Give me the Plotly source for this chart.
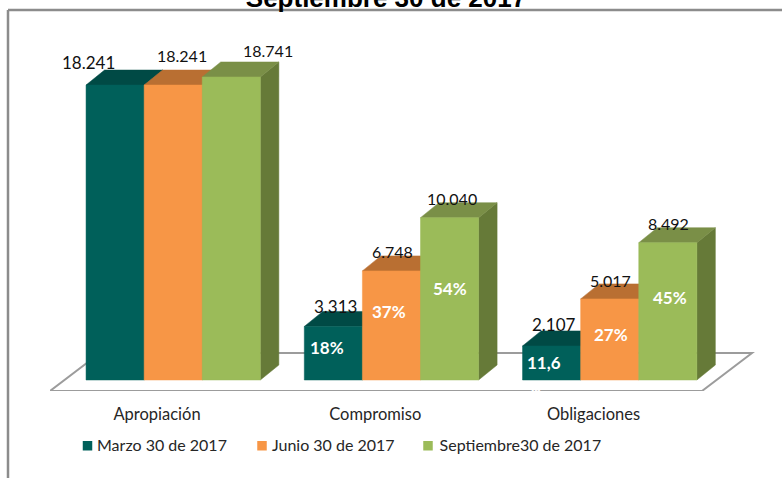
import plotly.graph_objects as go

categories = ["Apropiación", "Compromiso", "Obligaciones"]
series_names = ["Marzo 30 de 2017", "Junio 30 de 2017", "Septiembre30 de 2017"]
marzo = [18241, 3313, 2107]
junio = [18241, 6748, 5017]
septiembre = [18741, 10040, 8492]
pct_marzo = [None, "18%", "11,6"]
pct_junio = [None, "37%", "27%"]
pct_septiembre = [None, "54%", "45%"]

series = [marzo, junio, septiembre]
pcts = [pct_marzo, pct_junio, pct_septiembre]

FRONT = ["#00605A", "#F79646", "#9BBB59"]
TOP = ["#004A45", "#B96F32", "#7A8F47"]
SIDE = ["#004A45", "#B96F32", "#667A38"]

W, H = 782, 478
ML, MR, MT, MB = 50, 22, 20, 87
PX_X = 218.25           # pixels per category step
PX_Y = 0.01617          # pixels per value unit
X0 = -(157 - ML) / PX_X
X1 = X0 + (W - ML - MR) / PX_X
Y0 = -11 / PX_Y
Y1 = Y0 + (H - MT - MB) / PX_Y
BAR_W = 58.1 / PX_X
GROUP_SHIFT = 16.2 / PX_X
DX = 18.5 / PX_X
DY = 15 / PX_Y

# label offsets in pixels, per series then category
VAL_SHIFT = [[(-27, 23), (2, 20), (2, 21)], [(9, 30), (1, 19), (1, 18)], [(37, 26), (2, 19), (1, 19)]]
PCT_SHIFT = [[None, (-6, 6), (-8, 0)], [None, (-2, 14), (1, 5)], [None, (0, 10), (2, 14)]]
VAL_SIZE = [[17, 17, 17], [16, 16, 16], [16, 16, 16]]
LEGEND_SWATCH_PX = [87.5, 262, 428]

fig = go.Figure()


def poly(xs, ys, color):
    fig.add_trace(go.Scatter(x=xs, y=ys, mode="lines", fill="toself", fillcolor=color,
                             line=dict(color=color, width=0.5), hoverinfo="skip", showlegend=False))


annotations = []
for c in range(len(categories)):
    for s, vals in enumerate(series):
        v = vals[c]
        left = c + GROUP_SHIFT + (s - 1.5) * BAR_W
        right = left + BAR_W
        poly([right, right + DX, right + DX, right, right], [0, DY, v + DY, v, 0], SIDE[s])
        poly([left, left + DX, right + DX, right, left], [v, v + DY, v + DY, v, v], TOP[s])
        poly([left, left, right, right, left], [0, v, v, 0, 0], FRONT[s])
        cx = (left + right) / 2
        xs, ys = VAL_SHIFT[s][c]
        annotations.append(dict(x=cx, y=v, xref="x", yref="y", text=f"{v:,}".replace(",", "."),
                                showarrow=False, xshift=xs, yshift=ys,
                                font=dict(family="Lato", size=VAL_SIZE[s][c], color="#111111")))
        if pcts[s][c]:
            xs, ys = PCT_SHIFT[s][c]
            annotations.append(dict(x=cx, y=v / 2, xref="x", yref="y", text=pcts[s][c], showarrow=False,
                                    xshift=xs, yshift=ys,
                                    font=dict(family="Lato", size=17, color="white", weight="bold")))

annotations.append(dict(x=2 + GROUP_SHIFT - BAR_W, y=0, xref="x", yref="y", text="%", showarrow=False,
                        xshift=-18, yshift=-8, font=dict(family="Lato", size=17, color="white", weight="bold")))

for s, name in enumerate(series_names):
    fig.add_trace(go.Scatter(x=[None], y=[None], mode="markers", name=name,
                             marker=dict(symbol="square", size=9, color="rgba(0,0,0,0)")))

floor_back = 27 / PX_Y
floor = f"M {X0} {Y0} L {(702 - 157) / PX_X} {Y0} L {(752 - 157) / PX_X} {floor_back} L {(100 - 157) / PX_X} {floor_back} Z"
GRAY = "#9C9C9C"
PW, PH = W - ML - MR, H - MT - MB
fx0, fx1 = (8 - ML) / PW, (W - ML) / PW
fy_top, fy_bot = 1 - (10 - MT) / PH, 1 - (H - MT) / PH
shapes = [
    dict(type="path", path=floor, xref="x", yref="y", layer="below", line=dict(color=GRAY, width=2), fillcolor="white"),
    dict(type="line", xref="paper", yref="paper", x0=fx0, x1=fx0, y0=fy_bot, y1=fy_top, line=dict(color="#8C8C8C", width=2.5)),
    dict(type="line", xref="paper", yref="paper", x0=fx0, x1=fx1, y0=fy_top, y1=fy_top, line=dict(color="#8C8C8C", width=2.5)),
]
for s, px in enumerate(LEGEND_SWATCH_PX):
    shapes.append(dict(type="rect", xref="paper", yref="paper",
                       x0=(px - 4.75 - ML) / PW, x1=(px + 4.75 - ML) / PW,
                       y0=1 - (450.5 - MT) / PH, y1=1 - (441 - MT) / PH,
                       fillcolor=FRONT[s], line=dict(width=0)))

fig.update_layout(
    width=W, height=H, margin=dict(l=ML, r=MR, t=MT, b=MB),
    paper_bgcolor="white", plot_bgcolor="rgba(0,0,0,0)",
    title=dict(text="<b>Septiembre 30 de 2017</b>", x=386 / W, xanchor="center", y=1 - 6.5 / H, yanchor="bottom",
               font=dict(family="Liberation Sans", size=26, color="black")),
    xaxis=dict(range=[X0, X1], tickvals=list(range(len(categories))), ticktext=categories, showgrid=False,
               zeroline=False, showline=False, ticks="outside", ticklen=8, tickcolor="rgba(0,0,0,0)",
               tickfont=dict(family="Lato", size=16.5, color="#262626"), fixedrange=True),
    yaxis=dict(range=[Y0, Y1], visible=False, fixedrange=True),
    legend=dict(orientation="h", x=(57 - ML) / PW, xanchor="left", y=1 - (445 - MT) / PH, yanchor="middle",
                font=dict(family="Lato", size=16, color="#262626"), indentation=0, itemwidth=30,
                bgcolor="rgba(0,0,0,0)", tracegroupgap=0),
    annotations=annotations, shapes=shapes, showlegend=True,
)
fig.write_html("out.html", post_script="document.body.style.margin='0';",
               config=dict(displayModeBar=False))
